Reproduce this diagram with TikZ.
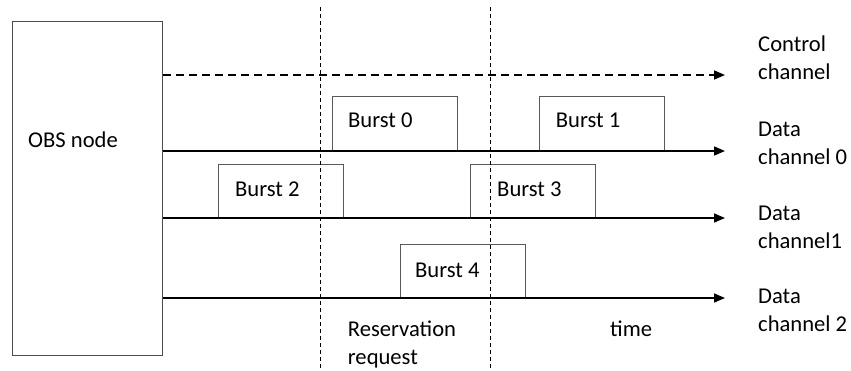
\documentclass[tikz,border=0pt]{standalone}
\usepackage{fontspec}
\setmainfont{Carlito}
\usetikzlibrary{arrows.meta}
\tikzset{
  lbl/.style={inner sep=0pt, anchor=base west, font=\fontsize{22.6}{28}\selectfont, align=left},
  burstbox/.style={draw=black!65, line width=1pt, anchor=south west, inner sep=0pt, minimum width=125pt, minimum height=54pt},
  axis/.style={line width=1.6pt, -{Triangle[length=11pt,width=9pt]}},
  ctrl/.style={axis, dash pattern=on 8pt off 5pt},
  marker/.style={line width=1pt, dash pattern=on 4pt off 3pt},
}
\begin{document}
\begin{tikzpicture}[x=1pt,y=-1pt]
\useasboundingbox (0,0) rectangle (851,370);
% OBS node
\node[draw=black!70, line width=1.3pt, anchor=north west, minimum width=150pt, minimum height=334pt, inner sep=0pt] (obs) at (12,21) {};
\node[lbl] (obslbl) at (28,147.5) {OBS node};
% axis end points
\coordinate (ce) at (725,75);
\coordinate (d0e) at (725,151);
\coordinate (d1e) at (725,218);
\coordinate (d2e) at (725,298);
% vertical markers
\coordinate (v1t) at (320,7);
\coordinate (v1b) at (320,370);
\coordinate (v2t) at (490.5,7);
\coordinate (v2b) at (490.5,370);
% bursts
\node[burstbox] (b0) at (332,151) {};
\node[burstbox] (b1) at (539,151) {};
\node[burstbox, minimum height=53pt] (b2) at (218,218) {};
\node[burstbox, minimum height=53pt] (b3) at (470,218) {};
\node[burstbox, minimum height=53pt] (b4) at (400,298) {};
% axes
\draw[ctrl] (obs.east |- ce) -- (ce);
\draw[axis] (obs.east |- d0e) -- (d0e);
\draw[axis] (obs.east |- d1e) -- (d1e);
\draw[axis] (obs.east |- d2e) -- (d2e);
\draw[marker] (v1t) -- (v1b);
\draw[marker] (v2t) -- (v2b);
% burst labels
\node[lbl] (l0) at (348,127.7) {Burst 0};
\node[lbl] (l1) at (555.7,127.7) {Burst 1};
\node[lbl] (l2) at (235,196) {Burst 2};
\node[lbl] (l3) at (497,196) {Burst 3};
\node[lbl] (l4) at (415,277) {Burst 4};
% channel labels (base = last line)
\node[lbl] (cc) at (758,79.5) {Control\\channel};
\node[lbl] (dc0) at (758,164) {Data\\channel 0};
\node[lbl] (dc1) at (758,248.5) {Data\\channel1};
\node[lbl] (dc2) at (758,331.5) {Data\\channel 2};
\node[lbl] (rr) at (347.7,364.5) {Reservation\\request};
\node[lbl] (tm) at (610,336.7) {time};
\end{tikzpicture}
\end{document}
